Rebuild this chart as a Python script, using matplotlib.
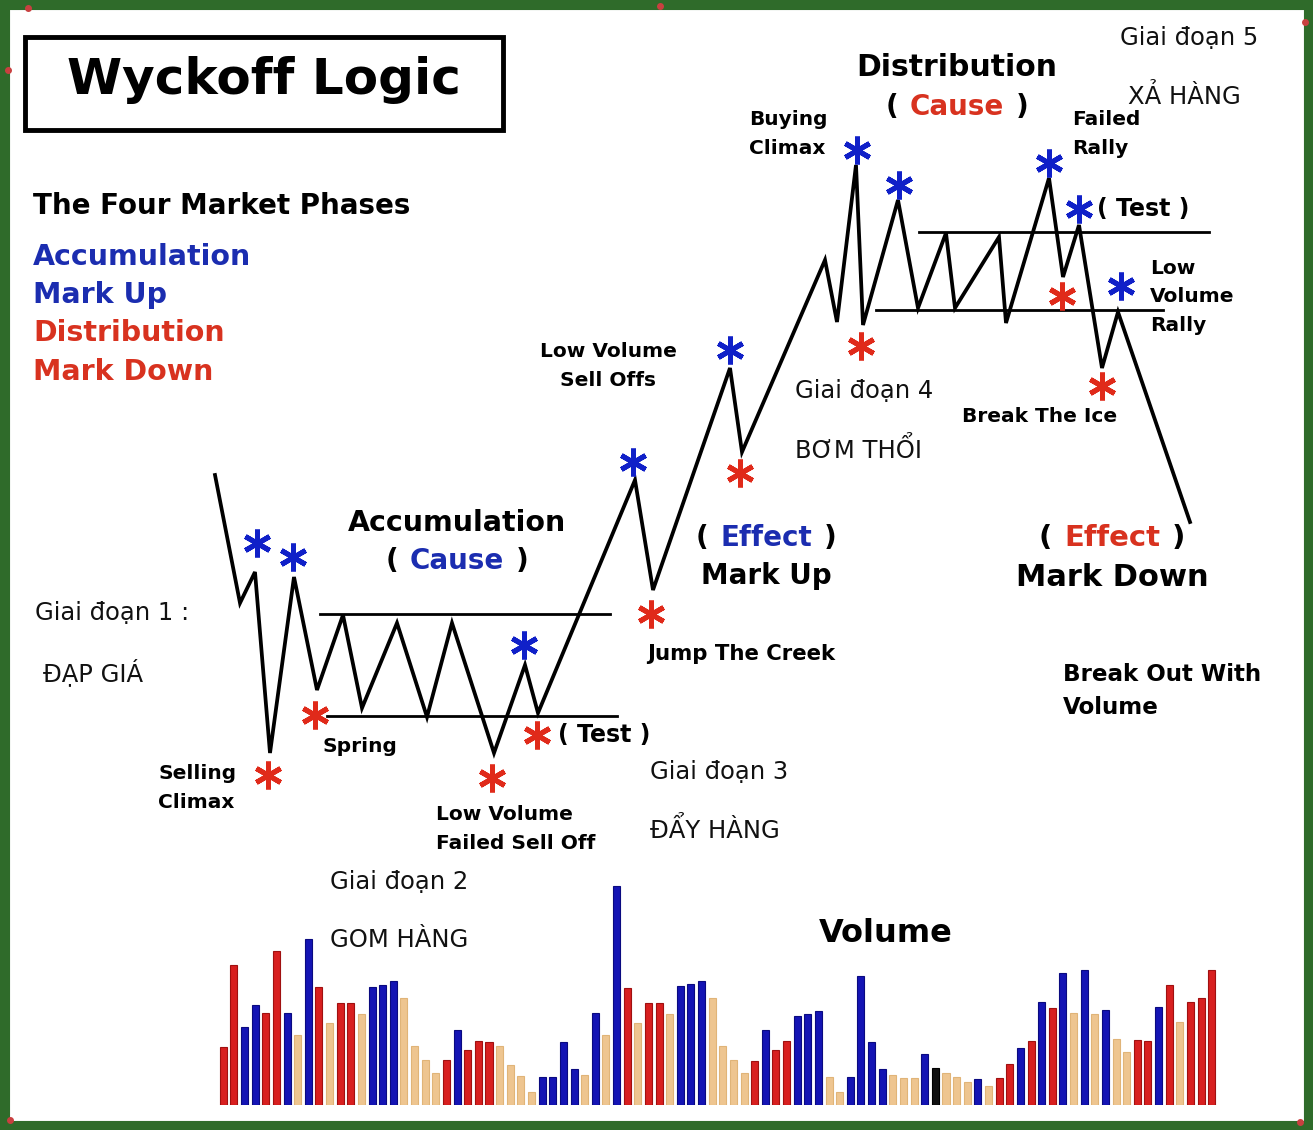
import matplotlib
matplotlib.use("Agg")
import matplotlib.pyplot as plt
from matplotlib.patches import Rectangle

W, H = 1313, 1130

# price path (pixel coords of the drawing, y grows downward)
path_x = [215, 240, 255, 270, 294, 317, 343, 362, 397, 427, 452, 494, 525, 538,
          635, 653, 730, 742, 825, 837, 856, 863, 898, 918, 946, 955, 999, 1006,
          1049, 1063, 1079, 1102, 1118, 1190]
path_y = [475, 603, 572, 753, 577, 690, 615, 708, 623, 717, 623, 753, 665, 713,
          480, 590, 368, 452, 260, 322, 165, 325, 200, 308, 233, 308, 237, 323,
          178, 277, 225, 368, 312, 522]

# trading range lines: (x0, x1, y)
ranges = [(320, 610, 614), (327, 617, 716), (919, 1209, 232), (876, 1163, 310)]

blue_star_x = [257, 293, 524, 633, 730, 857, 899, 1049, 1079, 1121]
blue_star_y = [543, 557, 645, 462, 350, 150, 185, 163, 209, 286]
red_star_x = [268, 315, 492, 537, 651, 740, 861, 1062, 1102]
red_star_y = [775, 715, 778, 735, 614, 473, 346, 296, 386]

# volume bars
volume = [58, 140, 78, 100, 92, 154, 92, 70, 166, 118, 82, 102, 102, 91, 118, 120,
          124, 107, 59, 45, 32, 45, 75, 55, 64, 63, 59, 40, 29, 13, 28, 28,
          63, 36, 30, 92, 70, 219, 117, 82, 102, 102, 91, 119, 121, 124, 107, 59,
          45, 32, 44, 75, 55, 64, 89, 91, 94, 28, 13, 28, 129, 63, 36, 30,
          27, 27, 51, 37, 32, 28, 23, 26, 19, 27, 41, 57, 64, 103, 97, 132,
          92, 135, 91, 95, 66, 53, 65, 64, 98, 120, 83, 103, 107, 135]
vol_kind = list("rrbbrrbtbrtrrtbbbttttrbrrrttttbb"
                "bbtbtbrtrrtbbbttttrbrrbbbttbbbbt"
                "ttbktttbtrrbrbrbtbtbttrrbrtrrr")

kind_color = {"r": "#d81f1f", "b": "#1414b4", "t": "#eec590", "k": "#111111"}
kind_edge = {"r": "#a01010", "b": "#0a0a80", "t": "#e0b478", "k": "#000000"}

BLUE = "#1b2db0"
RED = "#d8321f"

fig = plt.figure(figsize=(W / 100, H / 100), dpi=100)
ax = fig.add_axes([0, 0, 1, 1])
ax.set_xlim(0, W)
ax.set_ylim(H, 0)
ax.axis("off")
renderer = fig.canvas.get_renderer()

# green border
ax.add_patch(Rectangle((4, 4), W - 8, H - 8, fill=False, ec="#2f6b2a", lw=8))
for bx, by in [(28, 8), (8, 70), (1305, 22), (10, 1120), (1300, 1122), (660, 6)]:
    ax.plot(bx, by, "o", color="#c94040", ms=4)

# title box
ax.add_patch(Rectangle((25, 37), 478, 93, fill=False, ec="black", lw=3.5))
ax.text(264, 80, "Wyckoff Logic", fontsize=36, fontweight="bold", ha="center", va="center")

# phases legend
ax.text(33, 206, "The Four Market Phases", fontsize=20, fontweight="bold", va="center")
for txt, yy, c in [("Accumulation", 257, BLUE), ("Mark Up", 295, BLUE),
                   ("Distribution", 333, RED), ("Mark Down", 372, RED)]:
    ax.text(33, yy, txt, fontsize=20.5, fontweight="bold", color=c, va="center")

# price path and ranges
ax.plot(path_x, path_y, color="black", lw=2.7, solid_joinstyle="miter")
for x0, x1, yy in ranges:
    ax.plot([x0, x1], [yy, yy], color="black", lw=2)

ax.plot(blue_star_x, blue_star_y, ls="none", marker=(6, 2, 0), ms=20, mew=3.6, color="#1020c8")
ax.plot(red_star_x, red_star_y, ls="none", marker=(6, 2, 0), ms=20, mew=3.6, color="#e02a1a")


def cause(cx, cy, word, color, size, gap=12):
    t = ax.text(cx, cy, word, fontsize=size, fontweight="bold", color=color, ha="center", va="center")
    bb = t.get_window_extent(renderer)
    ax.text(bb.x0 - gap, cy, "(", fontsize=size, fontweight="bold", ha="right", va="center")
    ax.text(bb.x1 + gap, cy, ")", fontsize=size, fontweight="bold", ha="left", va="center")


ax.text(457, 523, "Accumulation", fontsize=20.5, fontweight="bold", ha="center", va="center")
cause(457, 561, "Cause", BLUE, 20)
ax.text(957, 67, "Distribution", fontsize=21.5, fontweight="bold", ha="center", va="center")
cause(957, 107, "Cause", RED, 20)
cause(766, 538, "Effect", BLUE, 20)
ax.text(766, 576, "Mark Up", fontsize=20, fontweight="bold", ha="center", va="center")
cause(1112, 538, "Effect", RED, 21)
ax.text(1112, 578, "Mark Down", fontsize=22, fontweight="bold", ha="center", va="center")

bold_labels = [
    (828, 134, "Buying\nClimax", "right", "left", 14.5, 1.65),
    (1072, 134, "Failed\nRally", "left", "left", 14.5, 1.65),
    (1150, 297, "Low\nVolume\nRally", "left", "left", 14.5, 1.65),
    (1040, 416, "Break The Ice", "center", "center", 14.5, 1.4),
    (608, 366, "Low Volume\nSell Offs", "center", "center", 14.5, 1.65),
    (741, 654, "Jump The Creek", "center", "center", 15.3, 1.4),
    (1063, 691, "Break Out With\nVolume", "left", "left", 16.6, 1.55),
    (158, 788, "Selling\nClimax", "left", "left", 14.5, 1.65),
    (360, 746, "Spring", "center", "center", 14.5, 1.4),
    (436, 829, "Low Volume\nFailed Sell Off", "left", "left", 14.5, 1.65),
]
for xx, yy, txt, ha, ma, size, ls in bold_labels:
    ax.text(xx, yy, txt, fontsize=size, fontweight="bold", ha=ha, va="center",
            linespacing=ls, multialignment=ma)

ax.text(1097, 209, "( Test )", fontsize=17, fontweight="bold", va="center")
ax.text(558, 735, "( Test )", fontsize=17, fontweight="bold", va="center")
ax.text(886, 934, "Volume", fontsize=23, fontweight="bold", ha="center", va="center")

viet = [(1120, 38, "Giai đoạn 5"), (1128, 97, "XẢ HÀNG"),
        (795, 391, "Giai đoạn 4"), (795, 450, "BƠM THỔI"),
        (650, 772, "Giai đoạn 3"), (650, 830, "ĐẨY HÀNG"),
        (330, 882, "Giai đoạn 2"), (330, 940, "GOM HÀNG"),
        (35, 613, "Giai đoạn 1 :"), (43, 672, "ĐẠP GIÁ")]
for xx, yy, txt in viet:
    ax.text(xx, yy, txt, fontsize=17.5, va="center", color="#111111")

# volume panel
n = len(volume)
left_px, right_px, bot_px, top_px = 218, 1217, 1105, 880
vax = fig.add_axes([left_px / W, (H - bot_px) / H, (right_px - left_px) / W, (bot_px - top_px) / H])
vax.set_xlim(-0.5, n - 0.5)
vax.set_ylim(0, bot_px - top_px)
vax.axis("off")
vax.bar(range(n), volume, width=0.66,
        color=[kind_color[k] for k in vol_kind],
        edgecolor=[kind_edge[k] for k in vol_kind], linewidth=0.8)

fig.savefig("out.png", dpi=100, facecolor="white")
